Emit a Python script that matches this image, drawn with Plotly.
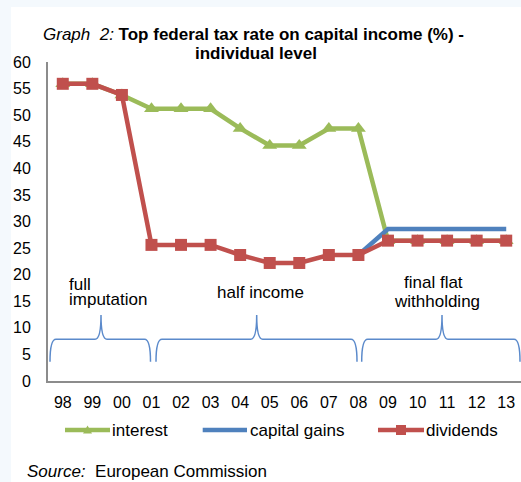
import plotly.graph_objects as go

years = ["98", "99", "00", "01", "02", "03", "04", "05", "06", "07", "08", "09", "10", "11", "12", "13"]
interest = [55.9, 55.9, 53.8, 51.2, 51.2, 51.2, 47.5, 44.3, 44.3, 47.5, 47.5, 26.4, 26.4, 26.4, 26.4, 26.4]
capital_gains = [None, None, None, None, None, None, None, None, None, None, 23.7, 28.6, 28.6, 28.6, 28.6, 28.6]
dividends = [55.9, 55.9, 53.8, 25.6, 25.6, 25.6, 23.7, 22.2, 22.2, 23.7, 23.7, 26.4, 26.4, 26.4, 26.4, 26.4]
y_ticks = [0, 5, 10, 15, 20, 25, 30, 35, 40, 45, 50, 55, 60]

GREEN = "#9BBB59"
BLUE = "#4F81BD"
RED = "#C0504D"
FONT = "Arial, Liberation Sans, sans-serif"

W, H = 521, 482
L, R, T, B = 48, 0, 62, 101
PW, PH = W - L - R, H - T - B


def px(x):
    return (x - L) / PW


def py(y):
    return (H - B - y) / PH


fig = go.Figure()
fig.add_trace(go.Scatter(x=years, y=interest, name="interest", mode="lines+markers",
                         line=dict(color=GREEN, width=4.5),
                         marker=dict(symbol="triangle-up", size=13, color=GREEN)))
fig.add_trace(go.Scatter(x=years, y=capital_gains, name="capital gains", mode="lines",
                         line=dict(color=BLUE, width=4.5)))
fig.add_trace(go.Scatter(x=years, y=dividends, name="dividends", mode="lines+markers",
                         line=dict(color=RED, width=4.5),
                         marker=dict(symbol="square", size=12, color=RED)))

shapes = []
# white page area over pale blue border
shapes.append(dict(type="rect", xref="paper", yref="paper", layer="below",
                   x0=px(11), x1=px(W + 10), y0=py(H + 10), y1=py(7),
                   fillcolor="white", line=dict(width=0)))

# curly braces (x in pixels, y in data units)
yb, yh, yt = 3.63, 7.84, 12.4
braces = [(50, 101, 150.5), (156, 256.7, 357), (361.7, 442, 520)]
for x0, tip, x1 in braces:
    d = 6
    pts = (f"M {px(x0)},{yb} Q {px(x0)},{yh} {px(x0 + d)},{yh} "
           f"L {px(tip - d)},{yh} Q {px(tip)},{yh} {px(tip)},{yt} "
           f"Q {px(tip)},{yh} {px(tip + d)},{yh} "
           f"L {px(x1 - d)},{yh} Q {px(x1)},{yh} {px(x1)},{yb}")
    shapes.append(dict(type="path", xref="paper", yref="y", path=pts,
                       line=dict(color="#5B8ACB", width=1.5)))

# custom legend
leg_y = 430
legend_items = [(65, 110, GREEN, "triangle"), (202.7, 247, BLUE, None), (378, 424, RED, "square")]
for x0, x1, col, mk in legend_items:
    shapes.append(dict(type="line", xref="paper", yref="paper",
                       x0=px(x0), x1=px(x1), y0=py(leg_y), y1=py(leg_y),
                       line=dict(color=col, width=4.5)))
    cx = (x0 + x1) / 2
    if mk == "triangle":
        shapes.append(dict(type="path", xref="paper", yref="paper",
                           path=f"M {px(cx - 4.5)},{py(leg_y + 3.5)} L {px(cx + 4.5)},{py(leg_y + 3.5)} L {px(cx)},{py(leg_y - 4.5)} Z",
                           fillcolor=col, line=dict(width=0)))
    elif mk == "square":
        shapes.append(dict(type="rect", xref="paper", yref="paper",
                           x0=px(cx - 5), x1=px(cx + 5), y0=py(leg_y + 5), y1=py(leg_y - 5),
                           fillcolor=col, line=dict(width=0)))

annotations = []


def text(x, y, s, anchor="center", size=17):
    annotations.append(dict(x=px(x), y=py(y), xref="paper", yref="paper", text=s,
                            showarrow=False, xanchor=anchor, yanchor="middle",
                            font=dict(family=FONT, size=size, color="black"),
                            borderpad=0, borderwidth=0))


text(253, 34, "<i>Graph \u00a02:</i> <b>Top federal tax rate on capital income (%) -</b>")
text(256, 53.3, "<b>individual level</b>")
text(69, 284.7, "full", "left")
text(69, 299, "imputation", "left")
text(260, 292.7, "half income")
text(433, 282.3, "final flat")
text(436.7, 301.3, "withholding")
text(111.5, leg_y, "interest", "left")
text(249.5, leg_y, "capital gains", "left")
text(426, leg_y, "dividends", "left")
text(27, 471.5, "<i>Source:</i> \u00a0European Commission", "left")

fig.update_layout(
    width=W, height=H,
    margin=dict(l=L, r=R, t=T, b=B, pad=0),
    paper_bgcolor="#F4F9FD",
    plot_bgcolor="white",
    showlegend=False,
    shapes=shapes,
    annotations=annotations,
    font=dict(family=FONT, size=16, color="black"),
    xaxis=dict(type="category", range=[-0.5, 15.5], showgrid=False, zeroline=False,
               showline=True, linecolor="#8C8C8C", linewidth=2, ticks="",
               tickfont=dict(size=16, color="black"), ticklabelstandoff=6),
    yaxis=dict(range=[0, 60], tickvals=y_ticks, showgrid=False, zeroline=False,
               showline=True, linecolor="#8C8C8C", linewidth=2, ticks="",
               tickfont=dict(size=16, color="black"), ticklabelstandoff=12),
)

fig.write_html("out.html", config={"displayModeBar": False},
               post_script="document.body.style.margin='0';document.body.style.overflow='hidden';")
